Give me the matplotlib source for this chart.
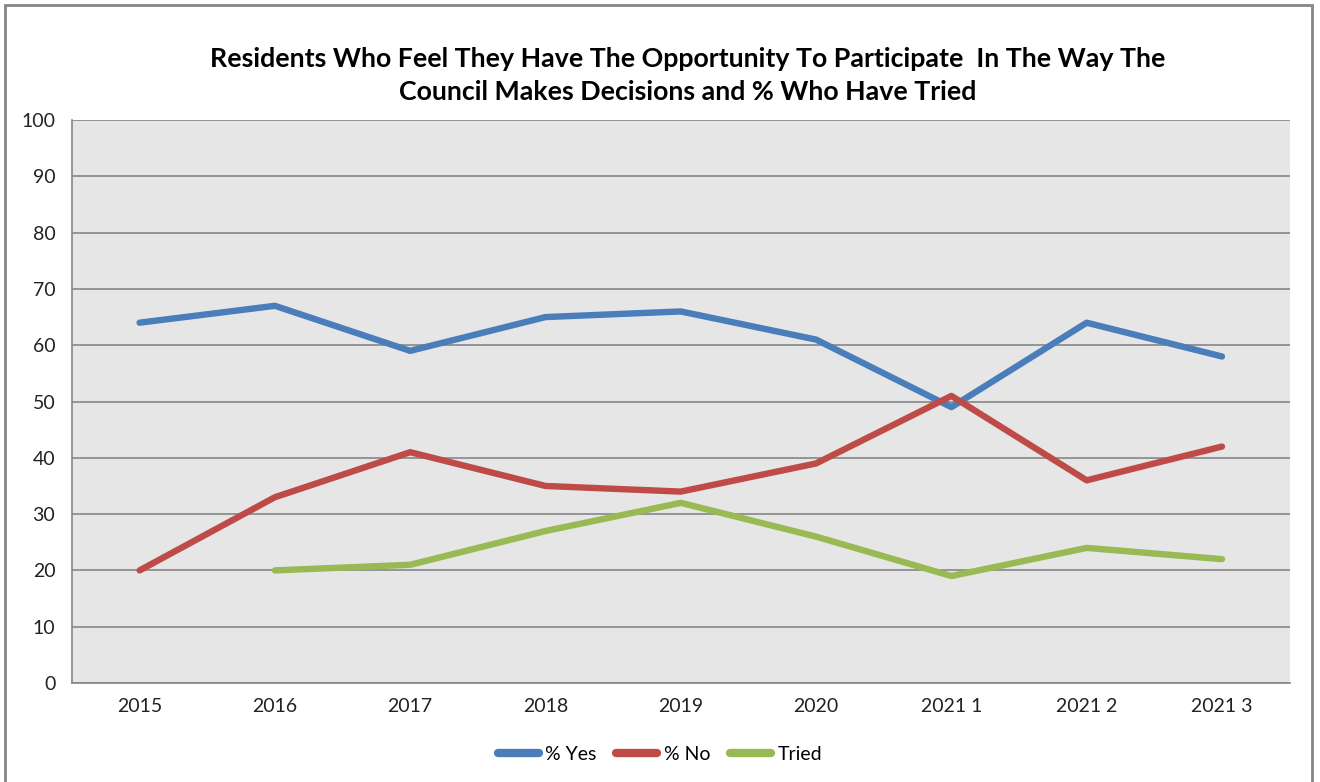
import matplotlib
matplotlib.use("Agg")
import matplotlib.pyplot as plt
import numpy as np

categories = ["2015", "2016", "2017", "2018", "2019", "2020", "2021 1", "2021 2", "2021 3"]
yes_vals = [64, 67, 59, 65, 66, 61, 49, 64, 58]
no_vals = [20, 33, 41, 35, 34, 39, 51, 36, 42]
tried_vals = [np.nan, 20, 21, 27, 32, 26, 19, 24, 22]

plt.rcParams['font.family'] = ['Lato', 'DejaVu Sans']

fig = plt.figure(figsize=(13.2, 7.82), dpi=100)
ax = fig.add_axes([0.0545, 0.1266, 0.9225, 0.7199])

# outer chart frame (bottom edge runs off the picture)
frame = plt.Rectangle((0.004, -0.05), 0.99, 1.043, transform=fig.transFigure,
                      fill=False, edgecolor='#868686', linewidth=2)
fig.patches.append(frame)

x = np.arange(len(categories))
ax.plot(x, yes_vals, color='#4a7ebb', lw=4.6, solid_capstyle='round', label='% Yes')
ax.plot(x, no_vals, color='#be4b48', lw=4.6, solid_capstyle='round', label='% No')
ax.plot(x, tried_vals, color='#98b954', lw=4.6, solid_capstyle='round', label='Tried')

ax.set_facecolor('#e6e6e6')
ax.set_xlim(-0.5, len(categories) - 0.5)
ax.set_ylim(0, 100)
ax.set_yticks(range(0, 101, 10))
ax.set_xticks(x)
ax.set_xticklabels(categories)
ax.grid(axis='y', color='#868686', lw=1.2)
ax.set_axisbelow(True)
ax.tick_params(length=0, labelsize=14, colors='#222222')
ax.tick_params(axis='x', pad=11)
ax.tick_params(axis='y', pad=12)
for s in ['top', 'right']:
    ax.spines[s].set_visible(False)
for s in ['left', 'bottom']:
    ax.spines[s].set_color('#868686')
    ax.spines[s].set_linewidth(1.2)

fig.text(0.521, 0.903, "Residents Who Feel They Have The Opportunity To Participate  In The Way The\nCouncil Makes Decisions and % Who Have Tried",
         ha='center', va='center', fontsize=19.3, fontweight='bold', linespacing=1.45)

leg = fig.legend(loc='center', bbox_to_anchor=(0.5, 0.035), ncol=3, frameon=False,
                 fontsize=14, handlelength=2.1, handletextpad=0.35, columnspacing=1.0)
for h in leg.legend_handles:
    h.set_linewidth(6)

fig.savefig("out.png", dpi=100)
